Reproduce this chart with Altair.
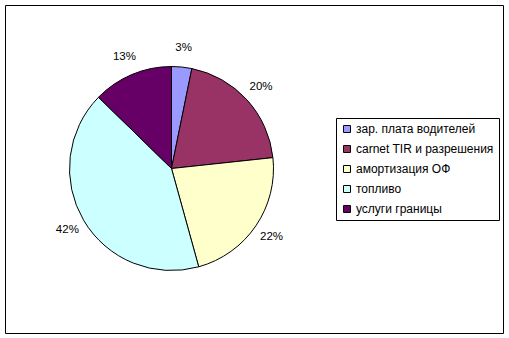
import altair as alt
import pandas as pd

categories = ["зар. плата водителей", "carnet TIR и разрешения", "амортизация ОФ", "топливо", "услуги границы"]
values = [3.2, 20.1, 22.4, 41.6, 12.7]
labels = ["3%", "20%", "22%", "42%", "13%"]
colors = ["#9999FF", "#993366", "#FFFFCC", "#CCFFFF", "#660066"]

df = pd.DataFrame({"cat": categories, "val": values, "lab": labels, "idx": list(range(len(categories)))})

OX, OY = 5, 5
CX, CY, R = 171.5 - OX, 168.5 - OY, 102

base = alt.Chart(df).encode(
    theta=alt.Theta("val:Q", stack=True),
    order=alt.Order("idx:Q"),
)

pie = base.mark_arc(stroke="black", strokeWidth=1).encode(
    color=alt.Color(
        "cat:N",
        scale=alt.Scale(domain=categories, range=colors),
        sort=categories,
        legend=alt.Legend(
            title=None,
            orient="none",
            legendX=336 - OX,
            legendY=118 - OY,
            strokeColor="black",
            fillColor="white",
            padding=5,
            rowPadding=8,
            symbolType="square",
            symbolSize=49,
            symbolStrokeColor="black",
            symbolStrokeWidth=1,
            labelFont="Liberation Sans",
            labelFontSize=12,
            labelColor="black",
            labelLimit=220,
            symbolOffset=0,
            labelOffset=3,
        ),
    ),
    x=alt.value(CX),
    y=alt.value(CY),
    radius=alt.value(R),
)

text = base.mark_text(font="Liberation Sans", fontSize=11.5, color="black").encode(
    text="lab:N",
    x=alt.value(CX),
    y=alt.value(CY),
    radius=alt.value(121),
)

chart = (
    alt.layer(pie, text)
    .properties(
        width=498,
        height=328,
        padding={"left": OX, "top": OY, "right": 6, "bottom": 5},
        autosize=alt.AutoSizeParams(type="none"),
        background="white",
    )
    .configure_view(stroke="black", strokeWidth=1)
)

chart.save("out.html", embed_options={"renderer": "svg", "actions": False})
